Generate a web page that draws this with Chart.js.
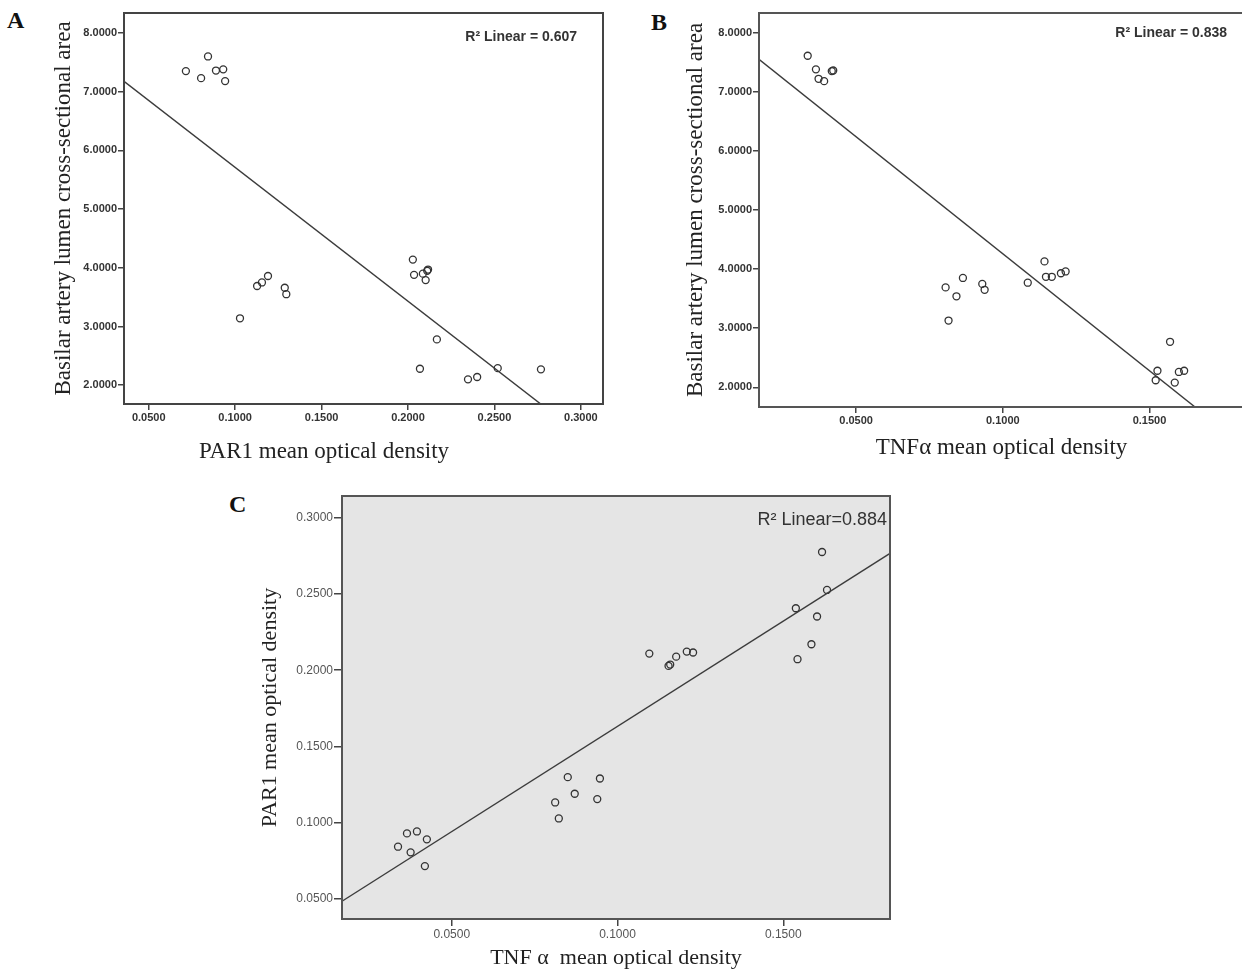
<!DOCTYPE html>
<html>
<head>
<meta charset="utf-8">
<script src="https://cdn.jsdelivr.net/npm/chart.js@4.4.1/dist/chart.umd.min.js"></script>
<style>
  html, body { margin: 0; padding: 0; background: #fff; overflow: hidden; }
  body { width: 1242px; height: 971px; position: relative; }
  .panel { position: absolute; }
  .tag { position: absolute; font: bold 24px "Liberation Serif", serif; color: #111; }
</style>
</head>
<body>
<div class="tag" style="left:7px;top:7px;">A</div>
<div class="tag" style="left:651px;top:9px;">B</div>
<div class="tag" style="left:229px;top:491px;">C</div>

<div class="panel" style="left:0;top:0;width:620px;height:475px;"><canvas id="chartA"></canvas></div>
<div class="panel" style="left:620px;top:0;width:630px;height:475px;"><canvas id="chartB"></canvas></div>
<div class="panel" style="left:200px;top:470px;width:720px;height:501px;"><canvas id="chartC"></canvas></div>

<script>
// ---- data ----
// A: PAR1 mean optical density vs basilar artery lumen area
const parA  = [0.0715, 0.0803, 0.0843, 0.0889, 0.0931, 0.0942, 0.1028, 0.1127, 0.1155, 0.1190, 0.1287, 0.1296,
               0.2028, 0.2035, 0.2086, 0.2102, 0.2111, 0.2116, 0.2167, 0.2069, 0.2347, 0.2400, 0.2519, 0.2769];
const areaA = [7.35, 7.23, 7.60, 7.36, 7.38, 7.18, 3.14, 3.69, 3.75, 3.86, 3.66, 3.55,
               4.14, 3.88, 3.90, 3.79, 3.95, 3.97, 2.78, 2.28, 2.10, 2.14, 2.29, 2.27];
const fitA = { intercept: 7.99, slope: -22.8, label: 'R\u00b2 Linear = 0.607' };

// B: TNFα mean optical density vs lumen area
const tnfB  = [0.0335, 0.0363, 0.0372, 0.0391, 0.0417, 0.0422, 0.0805, 0.0815, 0.0842, 0.0864, 0.0930, 0.0938,
               0.1085, 0.1142, 0.1147, 0.1167, 0.1198, 0.1214, 0.1527, 0.1521, 0.1570, 0.1586, 0.1600, 0.1618];
const areaB = [7.61, 7.38, 7.22, 7.18, 7.35, 7.36, 3.69, 3.13, 3.54, 3.85, 3.75, 3.65,
               3.77, 4.13, 3.87, 3.87, 3.93, 3.96, 2.28, 2.12, 2.77, 2.08, 2.26, 2.28];
const fitB = { intercept: 8.22, slope: -39.6, label: 'R\u00b2 Linear = 0.838' };

// C: TNFα vs PAR1
const tnfC = [0.0338, 0.0365, 0.0376, 0.0395, 0.0419, 0.0425, 0.0812, 0.0823, 0.0850, 0.0871, 0.0939, 0.0947,
              0.1096, 0.1154, 0.1159, 0.1177, 0.1209, 0.1228, 0.1538, 0.1543, 0.1585, 0.1602, 0.1617, 0.1632];
const parC = [0.0843, 0.0930, 0.0806, 0.0943, 0.0716, 0.0891, 0.1133, 0.1028, 0.1299, 0.1190, 0.1155, 0.1290,
              0.2109, 0.2028, 0.2037, 0.2089, 0.2122, 0.2116, 0.2406, 0.2072, 0.2170, 0.2352, 0.2775, 0.2526];
const fitC = { intercept: 0.0252, slope: 1.38, label: 'R\u00b2 Linear=0.884' };

// tick values
const areaTicks = [2, 3, 4, 5, 6, 7, 8];
const parTicks  = [0.05, 0.10, 0.15, 0.20, 0.25, 0.30];
const tnfTicks  = [0.05, 0.10, 0.15];

// axis ranges
const parRangeA = [0.0357, 0.3128];
const parRangeC = [0.0369, 0.3142];
const tnfRange  = [0.0169, 0.1822];
const areaRangeA = [1.68, 8.34];
const areaRangeB = [1.667, 8.333];

// frame, background, R² label and (optionally) an off-centre axis title
const framePlugin = {
  id: 'frame',
  beforeDraw(chart, args, opts) {
    if (!opts.fill) return;
    const { ctx, chartArea: a } = chart;
    ctx.save();
    ctx.fillStyle = opts.fill;
    ctx.fillRect(a.left, a.top, a.width, a.height);
    ctx.restore();
  },
  afterDraw(chart, args, opts) {
    const { ctx, chartArea: a } = chart;
    ctx.save();
    ctx.strokeStyle = opts.color;
    ctx.lineWidth = opts.width;
    ctx.strokeRect(a.left, a.top, a.width, a.height);
    ctx.font = opts.font;
    ctx.fillStyle = opts.textColor;
    ctx.textAlign = 'right';
    ctx.textBaseline = 'middle';
    ctx.fillText(opts.label, a.right - opts.dx, a.top + opts.dy);
    if (opts.title) {
      ctx.font = opts.title.font;
      ctx.fillStyle = '#222';
      ctx.textAlign = 'center';
      ctx.fillText(opts.title.text, opts.title.x, opts.title.y);
    }
    ctx.restore();
  }
};

function axis(o) {
  return {
    type: 'linear',
    min: o.range[0],
    max: o.range[1],
    afterFit: s => { if (s.isHorizontal()) s.height = o.size; else s.width = o.size; },
    afterBuildTicks: s => { s.ticks = o.ticks.map(v => ({ value: v })); },
    ticks: {
      padding: o.pad,
      color: o.tickColor,
      font: o.tickFont,
      autoSkip: false,
      maxRotation: 0,
      callback: v => Number(v).toFixed(4)
    },
    grid: { drawOnChartArea: false, drawTicks: true, tickLength: o.tickLen, color: '#444', lineWidth: 1.5 },
    border: { display: false },
    title: {
      display: !!o.title,
      text: o.title || '',
      color: '#222',
      font: { family: 'Liberation Serif', size: o.titleSize || 22 },
      padding: o.titlePad
    }
  };
}

function makePanel(id, p) {
  const line = [p.x.range[0], p.x.range[1]].map(x => ({ x: x, y: p.fit.intercept + p.fit.slope * x }));
  new Chart(document.getElementById(id), {
    type: 'scatter',
    data: {
      datasets: [
        {
          data: line,
          showLine: true,
          borderColor: '#3c3c3c',
          borderWidth: 1.4,
          pointRadius: 0,
          clip: 0
        },
        {
          data: p.xs.map((x, i) => ({ x: x, y: p.ys[i] })),
          pointRadius: 3.5,
          pointBorderWidth: 1.3,
          pointBorderColor: '#333',
          pointBackgroundColor: 'rgba(0,0,0,0)'
        }
      ]
    },
    options: {
      responsive: true,
      maintainAspectRatio: false,
      animation: false,
      events: [],
      layout: { padding: p.padding },
      scales: { x: axis(p.x), y: axis(p.y) },
      plugins: {
        legend: { display: false },
        tooltip: { enabled: false },
        frame: p.frame
      }
    },
    plugins: [framePlugin]
  });
}

const boldTick = { family: 'Liberation Sans', size: 11, weight: 'bold' };
const plainTick = { family: 'Liberation Sans', size: 12 };

// panel A's x title sits left of the box centre in the original, so it is drawn by the plugin
makePanel('chartA', {
  xs: parA, ys: areaA, fit: fitA,
  padding: { top: 13, right: 17, left: 0, bottom: 0 },
  x: { range: parRangeA, ticks: parTicks, size: 71, pad: 1, tickLen: 6, tickFont: boldTick, tickColor: '#333' },
  y: { range: areaRangeA, ticks: areaTicks, size: 124, pad: 1, tickLen: 6, tickFont: boldTick, tickColor: '#333',
       title: 'Basilar artery lumen cross-sectional area', titleSize: 23, titlePad: { top: 50, bottom: 0 } },
  frame: { color: '#444', width: 2, label: fitA.label, font: 'bold 14px "Liberation Sans"', textColor: '#333', dx: 26, dy: 24,
           title: { text: 'PAR1 mean optical density', font: '23px "Liberation Serif"', x: 324, y: 452 } }
});

makePanel('chartB', {
  xs: tnfB, ys: areaB, fit: fitB,
  padding: { top: 13, right: 6, left: 0, bottom: 0 },
  x: { range: tnfRange, ticks: tnfTicks, size: 68, pad: 1, tickLen: 6, tickFont: boldTick, tickColor: '#333',
       title: 'TNF\u03b1 mean optical density', titleSize: 23, titlePad: { top: 0, bottom: 13 } },
  y: { range: areaRangeB, ticks: areaTicks, size: 139, pad: 1, tickLen: 6, tickFont: boldTick, tickColor: '#333',
       title: 'Basilar artery lumen cross-sectional area', titleSize: 23, titlePad: { top: 62, bottom: 0 } },
  frame: { color: '#555', width: 2, label: fitB.label, font: 'bold 14px "Liberation Sans"', textColor: '#333', dx: 17, dy: 20 }
});

makePanel('chartC', {
  xs: tnfC, ys: parC, fit: fitC,
  padding: { top: 26, right: 30, left: 0, bottom: 0 },
  x: { range: tnfRange, ticks: tnfTicks, size: 52, pad: 1, tickLen: 7, tickFont: plainTick, tickColor: '#555',
       title: 'TNF \u03b1  mean optical density', titleSize: 22, titlePad: { top: 0, bottom: 0 } },
  y: { range: parRangeC, ticks: parTicks, size: 142, pad: 1, tickLen: 8, tickFont: plainTick, tickColor: '#555',
       title: 'PAR1 mean optical density', titleSize: 22, titlePad: { top: 57, bottom: 0 } },
  frame: { color: '#555', width: 2, fill: '#e5e5e5', label: fitC.label, font: '18px "Liberation Sans"', textColor: '#333', dx: 3, dy: 24 }
});
</script>
</body>
</html>
